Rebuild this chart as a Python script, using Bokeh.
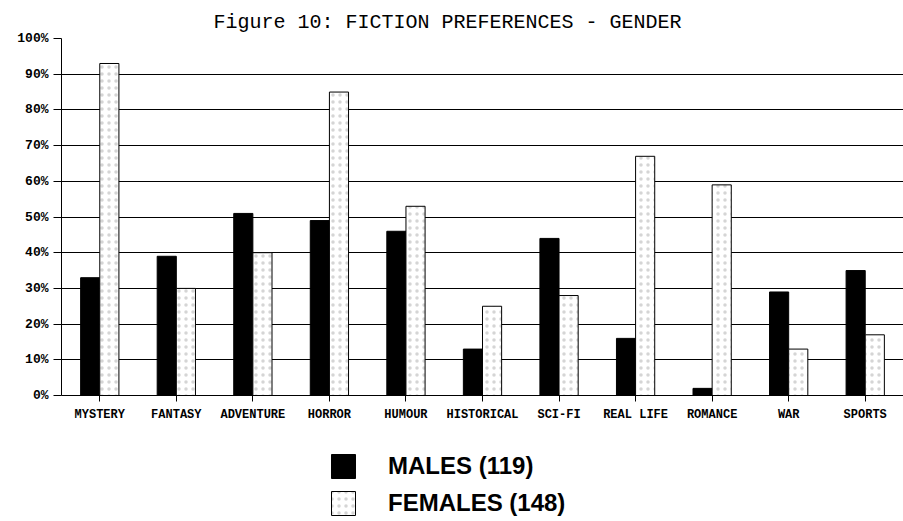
from bokeh.plotting import figure
from bokeh.layouts import column
from bokeh.models import (ColumnDataSource, FactorRange, Range1d, FixedTicker,
                          Title, Legend, LegendItem)
from bokeh.transform import dodge
from bokeh.embed import file_html
from bokeh.resources import INLINE

categories = ["MYSTERY", "FANTASY", "ADVENTURE", "HORROR", "HUMOUR", "HISTORICAL",
              "SCI-FI", "REAL LIFE", "ROMANCE", "WAR", "SPORTS"]
males = [33, 39, 51, 49, 46, 13, 44, 16, 2, 29, 35]
females = [93, 30, 40, 85, 53, 25, 28, 67, 59, 13, 17]
male_label = "MALES (119)"
female_label = "FEMALES (148)"
title_text = "Figure 10: FICTION PREFERENCES - GENDER"
y_ticks = [0, 10, 20, 30, 40, 50, 60, 70, 80, 90, 100]
y_tick_labels = ["0%", "10%", "20%", "30%", "40%", "50%", "60%", "70%", "80%", "90%", "100%"]

male_style = dict(fill_color="black", line_color="black")
female_style = dict(fill_color="white", line_color="black", line_width=1,
                    hatch_pattern="dot", hatch_color="#888888", hatch_alpha=0.35,
                    hatch_scale=7)

src = ColumnDataSource(dict(cat=categories, males=males, females=females))

p = figure(x_range=FactorRange(*categories, range_padding=0),
           y_range=Range1d(0, 100),
           width=903, height=430, output_backend="svg", toolbar_location=None,
           min_border_left=61, min_border_top=38, min_border_bottom=35,
           min_border_right=0)
p.outline_line_color = None
p.background_fill_color = "white"
p.border_fill_color = "white"

p.title = Title(text=title_text, align="left", offset=152, vertical_align="top",
                text_font="Liberation Mono", text_font_size="20px",
                text_line_height=1.8,
                text_font_style="normal", text_color="black", standoff=6)

p.vbar(x=dodge("cat", -0.125, range=p.x_range), top="males", width=0.25,
       source=src, **male_style)
p.vbar(x=dodge("cat", 0.125, range=p.x_range), top="females", width=0.25,
       source=src, **female_style)

# axes
p.xgrid.grid_line_color = None
p.ygrid.grid_line_color = "black"
p.ygrid.grid_line_width = 1
p.yaxis.ticker = FixedTicker(ticks=y_ticks)
p.yaxis.major_label_overrides = {t: l for t, l in zip(y_ticks, y_tick_labels)}
p.yaxis.major_tick_out = 8
p.yaxis.major_tick_in = 0
p.yaxis.minor_tick_line_color = None
p.yaxis.axis_line_color = "black"
p.yaxis.major_tick_line_color = "black"
p.yaxis.major_label_text_font = "Liberation Mono"
p.yaxis.major_label_text_font_style = "bold"
p.yaxis.major_label_text_font_size = "13px"
p.yaxis.major_label_text_color = "black"
p.yaxis.major_label_standoff = 5

p.xaxis.major_tick_out = 6
p.xaxis.major_tick_in = 0
p.xaxis.axis_line_color = "black"
p.xaxis.major_tick_line_color = "black"
p.xaxis.major_label_text_font = "Liberation Mono"
p.xaxis.major_label_text_font_style = "bold"
p.xaxis.major_label_text_font_size = "12px"
p.xaxis.major_label_text_color = "black"
p.xaxis.major_label_standoff = 6
p.xaxis.major_label_orientation = "horizontal"

# legend figure below the chart (proxy renderers sit outside the visible range)
lf = figure(width=903, height=91, output_backend="svg", toolbar_location=None,
            min_border=0, x_range=Range1d(0, 1), y_range=Range1d(0, 1))
lf.axis.visible = False
lf.grid.visible = False
lf.outline_line_color = None
lf.border_fill_color = "white"
proxy = ColumnDataSource(dict(x=[-10], top=[-10]))
lm = lf.vbar(x="x", top="top", width=0.1, source=proxy, **male_style)
lfm = lf.vbar(x="x", top="top", width=0.1, source=proxy, **female_style)

legend = Legend(items=[LegendItem(label=male_label, renderers=[lm]),
                       LegendItem(label=female_label, renderers=[lfm])],
                location=(267, 3), orientation="vertical",
                glyph_width=30, glyph_height=30, label_standoff=30,
                label_text_font="Liberation Sans", label_text_font_size="24px",
                label_text_font_style="bold",
                label_text_color="black", spacing=7, padding=0, margin=0,
                border_line_color=None, background_fill_alpha=0)
lf.add_layout(legend, "center")

layout = column(p, lf, spacing=0)
open("out.html", "w").write(file_html(layout, INLINE))
